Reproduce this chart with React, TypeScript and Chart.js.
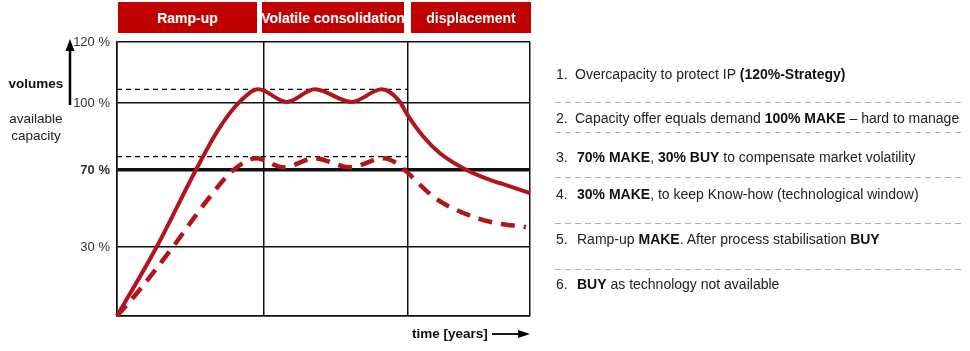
import React, { useEffect, useRef } from 'react';
import { Chart, registerables, LinearScale } from 'chart.js';

// ---------- data ----------
const phases = ['Ramp-up', 'Volatile consolidation', 'displacement'];
const phaseBounds = [0, 3.55, 7.04, 10]; // years
const yTickValues = [0, 30, 70, 100, 120];

const capacityX = [0, 0.96, 1.91, 2.45, 2.94, 3.42, 4.11, 4.79, 5.68, 6.41, 6.85, 7.01, 7.42, 7.82, 8.43, 9.03, 9.35, 10];
const capacityY = [0, 30, 70, 88, 100, 104.5, 100.4, 104.5, 100.4, 104.5, 100.4, 95.4, 84.9, 77.5, 70.3, 64.8, 62.6, 58];

const demandX = [0, 0.48, 1.36, 1.77, 2.25, 2.82, 3.38, 4.03, 4.79, 5.64, 6.45, 6.77, 7.01, 7.66, 8.22, 9.03, 9.9];
const demandY = [0, 9.9, 30.2, 42.3, 56.1, 70, 75.2, 71.2, 75.2, 71.2, 75.2, 73, 69.1, 56.1, 49.2, 43.1, 40.3];

const refLineX = [0, 7.04];
const overCapY = [104.5, 104.5];
const buyLevelY = [76, 76];

const listItems: { n: string; parts: [string, boolean][] }[] = [
  { n: '1.', parts: [['Overcapacity to protect IP ', false], ['(120%-Strategy)', true]] },
  { n: '2.', parts: [['Capacity offer equals demand ', false], ['100% MAKE', true], [' \u2013 hard to manage', false]] },
  { n: '3.', parts: [['70% MAKE', true], [', ', false], ['30% BUY', true], [' to compensate market volatility', false]] },
  { n: '4.', parts: [['30% MAKE', true], [', to keep Know-how (technological window)', false]] },
  { n: '5.', parts: [['Ramp-up ', false], ['MAKE', true], ['. After process stabilisation ', false], ['BUY', true]] },
  { n: '6.', parts: [['BUY', true], [' as technology not available', false]] },
];

// ---------- axis shape (schematic, non-uniform spacing of the y grid) ----------
const BP_V = [0, 30, 70, 100, 120];
const BP_F = [0, 0.252, 0.533, 0.777, 1];

class PiecewiseScale extends LinearScale {
  static id = 'piecewise';
  static defaults = LinearScale.defaults;
  getPixelForValue(value: any) {
    if (value == null || isNaN(value)) return NaN;
    const v = +value;
    let f = 0;
    if (v <= BP_V[0]) f = BP_F[0] + (v - BP_V[0]) * (BP_F[1] - BP_F[0]) / (BP_V[1] - BP_V[0]);
    else if (v >= BP_V[BP_V.length - 1]) {
      const n = BP_V.length - 1;
      f = BP_F[n] + (v - BP_V[n]) * (BP_F[n] - BP_F[n - 1]) / (BP_V[n] - BP_V[n - 1]);
    } else {
      for (let i = 0; i < BP_V.length - 1; i++) {
        if (v >= BP_V[i] && v <= BP_V[i + 1]) {
          f = BP_F[i] + (v - BP_V[i]) * (BP_F[i + 1] - BP_F[i]) / (BP_V[i + 1] - BP_V[i]);
          break;
        }
      }
    }
    return (this as any).getPixelForDecimal(f);
  }
  getValueForPixel(pixel: number) {
    const f = (this as any).getDecimalForPixel(pixel);
    for (let i = 0; i < BP_F.length - 1; i++) {
      if (f >= BP_F[i] && f <= BP_F[i + 1]) {
        return BP_V[i] + (f - BP_F[i]) * (BP_V[i + 1] - BP_V[i]) / (BP_F[i + 1] - BP_F[i]);
      }
    }
    return f * 120;
  }
}

Chart.register(...registerables, PiecewiseScale as any);

const FONT = '"Liberation Sans", Arial, sans-serif';
const RED = '#b2141b';
const HEADER_RED = '#c00000';

const arrowsPlugin = {
  id: 'arrows',
  afterDraw(chart: any) {
    const ctx = chart.ctx;
    ctx.save();
    ctx.fillStyle = '#000';
    ctx.strokeStyle = '#000';
    ctx.lineWidth = 2.5;
    // vertical arrow (y-axis)
    ctx.beginPath();
    ctx.moveTo(70, 105);
    ctx.lineTo(70, 49);
    ctx.stroke();
    ctx.beginPath();
    ctx.moveTo(70, 39);
    ctx.lineTo(65.5, 51);
    ctx.lineTo(74.5, 51);
    ctx.closePath();
    ctx.fill();
    // horizontal arrow (time)
    ctx.lineWidth = 1.8;
    ctx.beginPath();
    ctx.moveTo(492, 334);
    ctx.lineTo(520, 334);
    ctx.stroke();
    ctx.beginPath();
    ctx.moveTo(530, 334);
    ctx.lineTo(518, 330);
    ctx.lineTo(518, 338);
    ctx.closePath();
    ctx.fill();
    ctx.restore();
  },
};

const toXY = (xs: number[], ys: number[]) => xs.map((x, i) => ({ x, y: ys[i] }));

function ChartCanvas() {
  const ref = useRef<HTMLCanvasElement | null>(null);
  useEffect(() => {
    if (!ref.current) return;
    const chart = new Chart(ref.current, {
      type: 'line',
      data: {
        datasets: [
          {
            label: 'capacity',
            data: toXY(capacityX, capacityY),
            borderColor: RED,
            borderWidth: 4,
            pointRadius: 0,
            cubicInterpolationMode: 'monotone',
            fill: false,
            clip: false as any,
          },
          {
            label: 'demand',
            data: toXY(demandX, demandY),
            borderColor: RED,
            borderWidth: 4.5,
            borderDash: [14, 9],
            pointRadius: 0,
            cubicInterpolationMode: 'monotone',
            fill: false,
            clip: false as any,
          },
          {
            label: '120% strategy',
            data: toXY(refLineX, overCapY),
            borderColor: '#000',
            borderWidth: 1.2,
            borderDash: [5, 4],
            pointRadius: 0,
            tension: 0,
          },
          {
            label: '70% make',
            data: toXY(refLineX, buyLevelY),
            borderColor: '#000',
            borderWidth: 1.2,
            borderDash: [5, 4],
            pointRadius: 0,
            tension: 0,
          },
        ],
      } as any,
      options: {
        animation: false,
        responsive: false,
        parsing: true,
        layout: { padding: { left: 0, right: 440, top: 42, bottom: 35 } },
        plugins: { legend: { display: false }, tooltip: { enabled: false } },
        scales: {
          x: {
            type: 'linear',
            min: 0,
            max: 10,
            afterBuildTicks: (s: any) => {
              s.ticks = phaseBounds.map((v) => ({ value: v }));
            },
            ticks: { display: false },
            grid: { color: '#111', lineWidth: 1.5, drawTicks: false },
            border: { display: true, color: '#111', width: 1.5 },
          },
          y: {
            type: 'piecewise' as any,
            min: 0,
            max: 120,
            afterBuildTicks: (s: any) => {
              s.ticks = yTickValues.map((v) => ({ value: v }));
            },
            afterFit: (s: any) => {
              s.width = 117;
            },
            ticks: {
              callback: (v: any) => (v === 0 ? '' : v + ' %'),
              color: '#333',
              padding: 7,
              font: (c: any) => ({
                family: FONT,
                size: 13,
                weight: c.tick && c.tick.value === 70 ? 'bold' : 'normal',
              }),
            },
            grid: {
              color: '#111',
              lineWidth: (c: any) => (c.tick && c.tick.value === 70 ? 3.5 : 1.5),
              drawTicks: false,
            },
            border: { display: true, color: '#111', width: 1.5 },
          },
        },
      } as any,
      plugins: [arrowsPlugin],
    });
    return () => chart.destroy();
  }, []);
  return <canvas ref={ref} width={970} height={351} style={{ position: 'absolute', left: 0, top: 0, width: 970, height: 351 }} />;
}

const headerBoxes = [
  { left: 118, width: 139 },
  { left: 262, width: 142 },
  { left: 411, width: 120 },
];
const listY = [74, 118, 157, 194, 239, 284];
const sepY = [101.5, 131.5, 177, 223, 269];

export default function App() {
  return (
    <div style={{ position: 'fixed', left: 0, top: 0, width: 970, height: 351, background: '#fff', fontFamily: FONT, overflow: 'hidden' }}>
      <ChartCanvas />
      {phases.map((p, i) => (
        <div
          key={p}
          style={{
            position: 'absolute',
            top: 2,
            height: 31,
            left: headerBoxes[i].left,
            width: headerBoxes[i].width,
            background: HEADER_RED,
            color: '#fff',
            fontWeight: 'bold',
            fontSize: 14,
            display: 'flex',
            alignItems: 'center',
            justifyContent: 'center',
            whiteSpace: 'nowrap',
            overflow: 'hidden',
          }}
        >
          <span style={{ flexShrink: 0 }}>{p}</span>
        </div>
      ))}
      <div style={{ position: 'absolute', left: 4, width: 64, top: 75, textAlign: 'center', fontWeight: 'bold', fontSize: 13.5, color: '#111', lineHeight: '17px' }}>volumes</div>
      <div style={{ position: 'absolute', left: 4, width: 64, top: 110, textAlign: 'center', fontSize: 13.5, color: '#222', lineHeight: '17px' }}>
        available
        <br />
        capacity
      </div>
      <div style={{ position: 'absolute', left: 412, top: 325, fontWeight: 'bold', fontSize: 13.5, color: '#111', lineHeight: '18px' }}>time [years]</div>
      {listItems.map((it, i) => (
        <React.Fragment key={it.n}>
          <div style={{ position: 'absolute', left: 556, top: listY[i] - 9, fontSize: 14, color: '#222', lineHeight: '18px' }}>{it.n}</div>
          <div style={{ position: 'absolute', left: i < 2 ? 575 : 577, top: listY[i] - 9, fontSize: 14, color: '#222', lineHeight: '18px', whiteSpace: 'nowrap' }}>
            {it.parts.map(([t, b], j) => (
              <span key={j} style={{ fontWeight: b ? 'bold' : 'normal', color: b ? '#111' : '#222' }}>{t}</span>
            ))}
          </div>
        </React.Fragment>
      ))}
      {sepY.map((y) => (
        <div
          key={y}
          style={{
            position: 'absolute',
            left: 555,
            width: 406,
            top: y,
            height: 1,
            background: 'repeating-linear-gradient(to right, #b0b0b0 0px, #b0b0b0 6px, transparent 6px, transparent 10px)',
          }}
        />
      ))}
    </div>
  );
}
